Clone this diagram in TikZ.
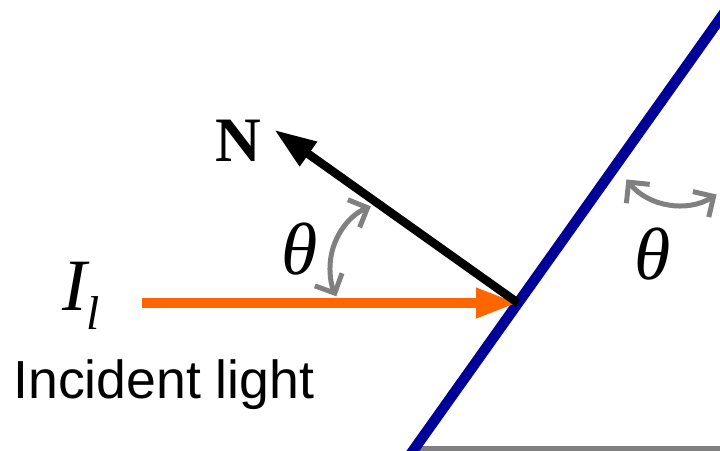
\documentclass[tikz,border=0pt]{standalone}
\usepackage{fontspec}
\setmainfont{Liberation Serif}
\setsansfont{Liberation Sans}
\usepackage{tikz}
\usetikzlibrary{arrows.meta,positioning,calc}
\usepackage{xcolor}
\definecolor{mirrorblue}{RGB}{0,0,153}
\definecolor{lightorange}{RGB}{255,102,0}
\definecolor{arcgray}{RGB}{128,128,128}

\begin{document}
\begin{tikzpicture}[
      every node/.style={inner sep=0pt},
      mirrorline/.style={draw=mirrorblue, line width=0.21cm},
      baseline/.style={draw=arcgray, line width=0.1cm},
      lightarr/.style={-{Triangle[length=0.84cm, width=0.56cm]},
        draw=lightorange, line width=0.19cm},
      normarr/.style={-{Triangle[length=0.84cm, width=0.56cm]},
        draw=black, line width=0.17cm},
      anglearr/.style={{Straight Barb[length=0.3cm, width=0.6cm]}-{Straight Barb[length=0.3cm, width=0.6cm]},
        draw=arcgray, line width=0.1cm},
      symlabel/.style={font=\fontsize{42}{48}\selectfont\itshape, anchor=base}
    ]
    \useasboundingbox (0,0) rectangle (14.4,9);
    \clip (0,0) rectangle (14.4,9);

    % ===== Points =====
    \coordinate (hit) at (10.36, 2.94);
    \coordinate (src) at (2.84, 2.94);
    \coordinate (ntip) at ($(hit)+(144.6:5.98)$);
    \coordinate (lc) at (7.94, 3.64);
    \coordinate (rc) at (13.6, 6.28);

    % ===== Surface =====
    \draw[baseline] (8.2, 0.03) -- (14.5, 0.03);
    \draw[mirrorline] (hit) ++(234.6:3.9) -- ++(54.6:11.5);

    % ===== Rays =====
    \draw[lightarr] (src) -- (hit);
    \draw[normarr] (hit) -- (ntip);

    % ===== Angles =====
    \draw[anglearr] ([shift={(113:1.34)}]lc) arc[start angle=113, end angle=205, radius=1.34];
    \draw[anglearr] ([shift={(219:1.38)}]rc) arc[start angle=219, end angle=302, radius=1.38];

    % ===== Labels =====
    \node[font=\fontsize{36}{40}\selectfont\bfseries] (nlab) at (4.77, 6.18) {N};
    \node[symlabel] (thl) at (6.0, 3.52) {θ};
    \node[symlabel] (thr) at (13.06, 3.42) {θ};
    \node[symlabel, anchor=base west] (il) at (1.24, 2.8)
      {I\raisebox{-11pt}{\fontsize{27}{30}\selectfont l}};
    \node[font=\fontsize{30.5}{36}\selectfont\sffamily, anchor=base west] (inc) at (0.26, 1.04)
      {Incident light};
  \end{tikzpicture}
\end{document}
